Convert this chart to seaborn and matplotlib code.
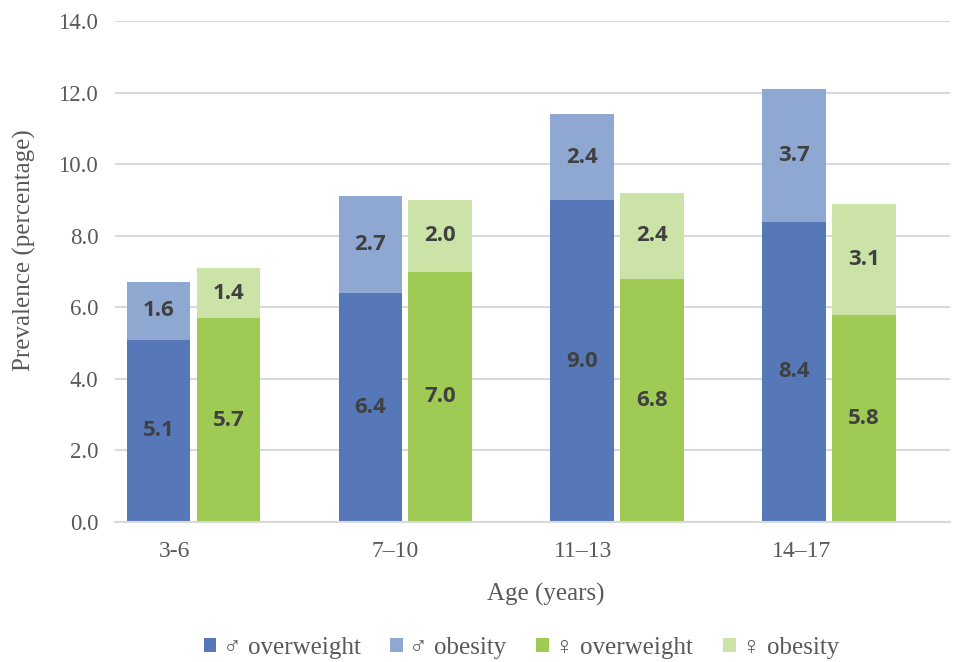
import matplotlib
matplotlib.use("Agg")
import matplotlib.pyplot as plt
from matplotlib.patches import Patch
import seaborn as sns
import pandas as pd

sns.set_style("white")
# 字体：Times 风格，♂♀ 用 DejaVu Sans 补
plt.rcParams["font.family"] = ["Liberation Serif", "DejaVu Sans"]

ages = ["3-6", "7–10", "11–13", "14–17"]
male_overweight = [5.1, 6.4, 9.0, 8.4]
male_obesity = [1.6, 2.7, 2.4, 3.7]
female_overweight = [5.7, 7.0, 6.8, 5.8]
female_obesity = [1.4, 2.0, 2.4, 3.1]

legend_labels = ["♂ overweight", "♂ obesity", "♀ overweight", "♀ obesity"]
colors = ["#5677b8", "#8fa8d1", "#9fcb55", "#cce3a8"]

# 长表，total 画在下面，overweight 盖在上面形成堆叠
rows = []
for i, age in enumerate(ages):
    rows.append({"age": age, "sex": "male", "overweight": male_overweight[i],
                 "obesity": male_obesity[i]})
    rows.append({"age": age, "sex": "female", "overweight": female_overweight[i],
                 "obesity": female_obesity[i]})
df = pd.DataFrame(rows)
df["total"] = df["overweight"] + df["obesity"]

fig = plt.figure(figsize=(9.62, 6.62), dpi=100)
ax = fig.add_axes([0.1195, 0.2115, 0.868, 0.7565])

sns.barplot(data=df, x="age", y="total", hue="sex", order=ages,
            hue_order=["male", "female"], palette=[colors[1], colors[3]],
            width=0.66, gap=0.09, errorbar=None, linewidth=0, saturation=1,
            legend=False, ax=ax)
sns.barplot(data=df, x="age", y="overweight", hue="sex", order=ages,
            hue_order=["male", "female"], palette=[colors[0], colors[2]],
            width=0.66, gap=0.09, errorbar=None, linewidth=0, saturation=1,
            legend=False, ax=ax)

# 数值标签
n = len(ages)
for k, bar in enumerate(ax.patches):
    layer = k // (2 * n)  # 0: total, 1: overweight
    within = k % (2 * n)
    sex_idx = within // n
    i = within % n
    xc = bar.get_x() + bar.get_width() / 2
    ow = male_overweight[i] if sex_idx == 0 else female_overweight[i]
    ob = male_obesity[i] if sex_idx == 0 else female_obesity[i]
    if layer == 0:
        y, val = ow + ob / 2, ob
    else:
        y, val = ow / 2, ow
    ax.text(xc, y, f"{val:.1f}", ha="center", va="center", fontsize=16,
            fontweight="bold", color="#404040", family="Open Sans", zorder=5)

ax.set_ylim(0, 14)
ax.set_xlim(-0.37, 3.57)
ax.set_yticks([0, 2, 4, 6, 8, 10, 12, 14])
ax.set_yticklabels([f"{v:.1f}" for v in [0, 2, 4, 6, 8, 10, 12, 14]])
# 原图的类目标签略偏左
tick_shift = [-0.09, -0.05, -0.16, -0.13]
ax.set_xticks([i + tick_shift[i] for i in range(n)])
ax.set_xticklabels(ages)
ax.tick_params(axis="both", length=0, labelcolor="#595959")
ax.tick_params(axis="x", pad=14, labelsize=17)
ax.tick_params(axis="y", pad=12, labelsize=16.5)
ax.yaxis.grid(True, color="#d9d9d9", linewidth=1.5)
ax.set_axisbelow(True)
for s in ["top", "right", "left"]:
    ax.spines[s].set_visible(False)
ax.spines["bottom"].set_color("#d9d9d9")
ax.spines["bottom"].set_linewidth(1.5)
ax.set_xlabel("Age (years)", fontsize=18, color="#595959", labelpad=15, x=0.516)
ax.set_ylabel("Prevalence (percentage)", fontsize=18, color="#595959", labelpad=16,
              y=0.543)

handles = [Patch(facecolor=c, edgecolor="none") for c in colors]
leg = fig.legend(handles, legend_labels, loc="center", bbox_to_anchor=(0.542, 0.021),
                 ncol=4, frameon=False, fontsize=18, handlelength=0.5, handleheight=0.5,
                 columnspacing=1.2, handletextpad=0.25)
for t in leg.get_texts():
    t.set_color("#595959")

fig.savefig("out.png", dpi=100)
